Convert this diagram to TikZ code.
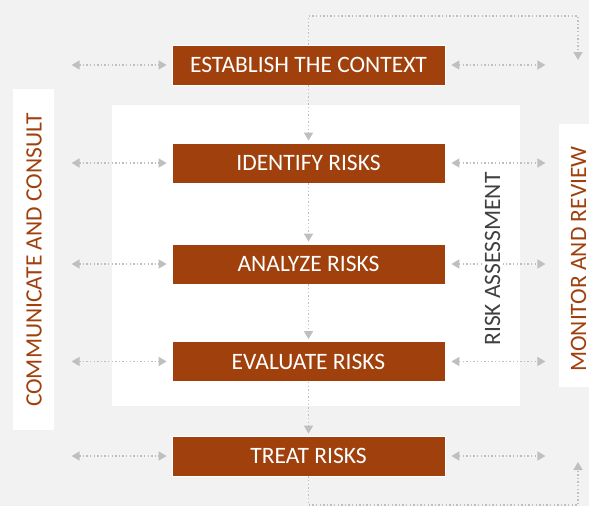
\documentclass[tikz,border=0pt]{standalone}
\usepackage{fontspec}
\setmainfont{Carlito}
\usetikzlibrary{arrows.meta}
\definecolor{bg}{HTML}{F2F2F2}
\definecolor{rust}{HTML}{A0410D}
\definecolor{arr}{HTML}{BFBFBF}
\definecolor{dgray}{HTML}{404040}
\tikzset{
  stepbox/.style={draw=white, line width=0.8pt, fill=rust, text=white, minimum width=273pt, minimum height=40pt, inner sep=0pt, font=\fontsize{23.5}{23.5}\selectfont},
  dotline/.style={draw=arr, line width=1.6pt, dash pattern=on 1.4pt off 2.2pt},
  tip/.style={-{Triangle[length=8pt,width=9pt,fill=arr]}},
  twotip/.style={{Triangle[length=8pt,width=9pt,fill=arr]}-{Triangle[length=8pt,width=9pt,fill=arr]}},
  sidelabel/.style={rotate=90, anchor=base, text=rust, font=\fontsize{23.5}{23.5}\selectfont, inner sep=0pt, text depth=0pt}
}
\begin{document}
\begin{tikzpicture}[x=1pt,y=-1pt]
\fill[bg] (0,0) rectangle (589,506);
\useasboundingbox (0,0) rectangle (589,506);
% panels
\fill[white] (112,105) rectangle (520,406);
\fill[white] (13,89) rectangle (54,430);
\fill[white] (559,124) rectangle (592,387);
% boxes
\node[stepbox] (est) at (308.5,65) {ESTABLISH THE CONTEXT};
\node[stepbox] (id) at (308.5,163) {IDENTIFY RISKS};
\node[stepbox] (ana) at (308.5,264) {ANALYZE RISKS};
\node[stepbox] (eva) at (308.5,361.5) {EVALUATE RISKS};
\node[stepbox] (tre) at (308.5,456) {TREAT RISKS};
% vertical arrows
\draw[dotline,tip,shorten >=2pt] (est.south) -- (id.north);
\draw[dotline,tip,shorten >=2pt] (id.south) -- (ana.north);
\draw[dotline,tip,shorten >=2pt] (ana.south) -- (eva.north);
\draw[dotline,tip,shorten >=2pt] (eva.south) -- (tre.north);
% horizontal arrows
\foreach \n in {est,id,ana,eva,tre}{
  \coordinate (L1\n) at ([xshift=-100pt]\n.west);
  \coordinate (L2\n) at ([xshift=-5pt]\n.west);
  \coordinate (R1\n) at ([xshift=6pt]\n.east);
  \coordinate (R2\n) at ([xshift=100pt]\n.east);
  \draw[dotline,twotip] (L1\n) -- (L2\n);
  \draw[dotline,twotip] (R1\n) -- (R2\n);
}
% loops
\coordinate (tc1) at (308.5,16);
\coordinate (tc2) at (578,16);
\coordinate (tc3) at (578,60);
\draw[dotline,tip] (est.north) -- (tc1) -- (tc2) -- (tc3);
\coordinate (bc1) at (308.5,505);
\coordinate (bc2) at (578,505);
\coordinate (bc3) at (578,462);
\draw[dotline,tip] (tre.south) -- (bc1) -- (bc2) -- (bc3);
% labels
\fill[white] (483,176) rectangle (503,342);
\node[sidelabel, text=dgray] (ra) at (500,259) {RISK ASSESSMENT};
\node[sidelabel] (cc) at (41.5,260) {COMMUNICATE AND CONSULT};
\node[sidelabel] (mr) at (586,259) {MONITOR AND REVIEW};
\end{tikzpicture}
\end{document}
